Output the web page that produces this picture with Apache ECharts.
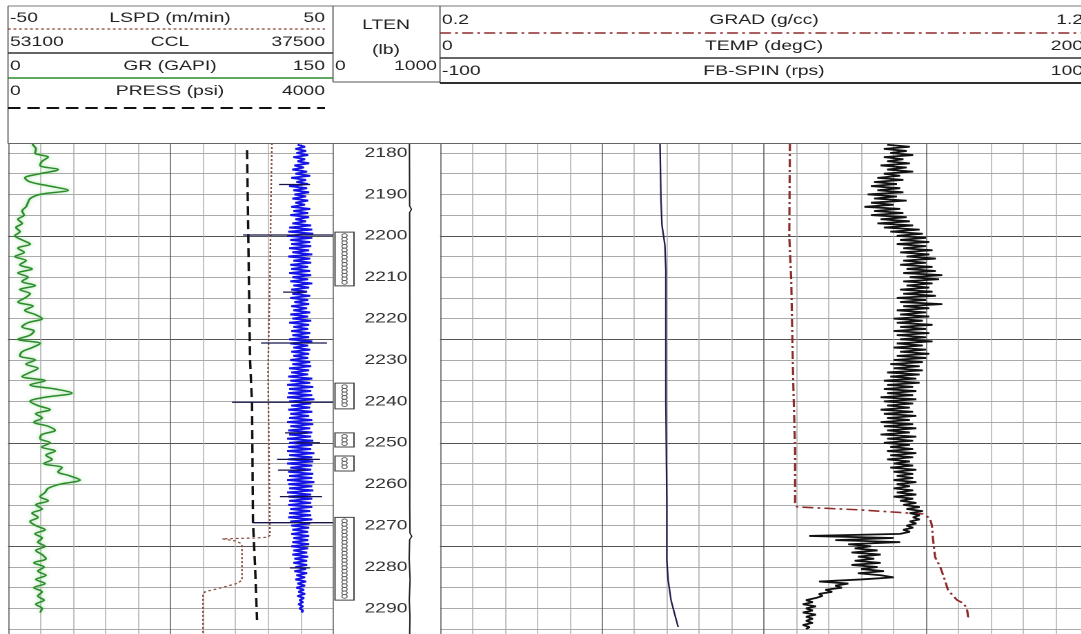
<!DOCTYPE html>
<html>
<head>
<meta charset="utf-8">
<title>Well log</title>
<script src="https://cdn.jsdelivr.net/npm/echarts@6.0.0/dist/echarts.min.js"></script>
<style>
  html, body { margin: 0; padding: 0; background: #fff; overflow: hidden; }
  #frame { width: 1081px; height: 634px; overflow: hidden; position: relative; }
  #chart { height: 634px; transform-origin: 0 0; }
</style>
</head>
<body>
<div id="frame"><div id="chart"></div></div>
<script>
// ---- data -------------------------------------------------------------
const DEPTH_MIN = 2175, DEPTH_MAX = 2300;

// GR (GAPI), one sample per metre
const grStart = 2177, grStep = 1;
const grValues = [11.1, 11.5, 12.9, 12.5, 18.5, 15.7, 14.8, 23.1, 14.8, 7.8,
  10.2, 19.4, 27.7, 14.8, 10.2, 9.2, 8.3, 6.5, 7.4, 4.6,
  6.5, 3.7, 5.5, 3.2, 6.5, 10.2, 4.6, 7.4, 3.2, 8.3,
  5.5, 11.1, 4.6, 9.2, 6.5, 12.5, 5.5, 10.2, 7.8, 4.6,
  11.5, 7.8, 12.5, 15.7, 9.2, 6.5, 12.0, 10.2, 4.6, 14.8,
  11.1, 6.5, 5.5, 12.5, 8.3, 13.8, 10.2, 6.5, 17.1, 10.2,
  21.7, 29.5, 17.1, 10.2, 13.8, 19.4, 12.9, 15.7, 12.0, 18.5,
  21.7, 15.7, 14.8, 19.4, 15.7, 21.7, 17.5, 20.3, 16.6, 24.9,
  23.1, 28.6, 33.2, 24.0, 18.5, 17.1, 14.8, 18.5, 12.9, 15.7,
  11.1, 13.8, 10.2, 12.9, 17.1, 12.5, 15.7, 13.8, 17.1, 12.9,
  15.7, 17.5, 12.0, 16.6, 13.8, 17.5, 12.9, 17.1, 12.0, 15.7,
  13.8, 16.6, 12.9, 15.7, 14.8];

// CCL, every 0.5 m
const cclStart = 2178, cclStep = 0.5;
const cclValues = [39200, 38850,
  39300, 38800, 39250, 38700, 39400, 38850, 39200, 38650, 39350, 38900,
  39450, 38750, 39300, 38600, 39500, 38800, 39250, 38700, 39600, 38750,
  39400, 38650, 39350, 38800, 39450, 38700, 39300, 38850, 39500, 38600,
  39400, 38700, 39550, 38650, 39300, 38800, 39450, 38550, 39600, 38500,
  39650, 38450, 39700, 38500, 39550, 38600, 39500, 38550, 39600, 38650,
  39450, 38500, 39650, 38600, 39400, 38550, 39550, 38700, 39500, 38600,
  39600, 38550, 39450, 38700, 39550, 38500, 39400, 38650, 39500, 38750,
  39450, 38600, 39550, 38700, 39350, 38650, 39500, 38750, 39400, 38600,
  39550, 38700, 39450, 38550, 39600, 38650, 39400, 38700, 39500, 38600,
  39450, 38650, 39600, 38500, 39550, 38700, 39400, 38600, 39500, 38650,
  39400, 38700, 39550, 38600, 39450, 38550, 39600, 38650, 39500, 38700,
  39650, 38500, 39550, 38600, 39700, 38450, 39600, 38550, 39650, 38500,
  39700, 38400, 39600, 38550, 39500, 38600, 39650, 38500, 39550, 38650,
  39600, 38500, 39700, 38450, 39550, 38600, 39650, 38500, 39600, 38550,
  39700, 38450, 39600, 38500, 39650, 38550, 39700, 38400, 39600, 38500,
  39650, 38450, 39700, 38500, 39550, 38550, 39650, 38450, 39600, 38500,
  39700, 38400, 39650, 38500, 39600, 38450, 39700, 38550, 39650, 38500,
  39600, 38550, 39650, 38500, 39550, 38600, 39600, 38550, 39650, 38500,
  39550, 38600, 39500, 38650, 39450, 38700, 39500, 38650, 39400, 38700,
  39450, 38650, 39500, 38700, 39400, 38750, 39450, 38700, 39350, 38750,
  39400, 38750, 39300, 38800, 39350, 38750, 39250, 38850, 39300, 38800,
  39200, 38850, 39250, 38900, 39150, 38850, 39200, 38900, 39100, 38950,
  39150, 38950, 39100, 38950, 39000];

// CCL collar kicks: depth, left and right excursion
const kickDepth = [2187.6, 2199.8, 2213.6, 2225.9, 2240.2, 2247.6, 2250.0, 2254.0, 2256.6, 2263.0, 2269.3, 2280.2];
const kickLeft  = [40092, 41820, 39900, 40956, 42348, 39804, 39300, 40188, 40140, 40044, 41340, 39564];
const kickRight = [38604, 37500, 38800, 37788, 37500, 38700, 38124, 38124, 38800, 38028, 37500, 38604];

// LSPD (m/min)
const lspdDepth = [2177.6, 2191.4, 2210.7, 2232.4, 2251.7, 2272.3, 2272.8, 2273.0, 2273.2, 2273.7, 2274.2, 2274.9, 2283.1, 2283.9, 2285.1, 2286.0, 2286.8, 2297];
const lspdValue = [31.2, 30.9, 30.6, 30.0, 30.3, 30.6, 30.0, 26.0, 15.9, 19.9, 21.4, 22.0, 22.0, 20.8, 15.2, 10.6, 10.0, 10.0];

// PRESS (psi)
const pressDepth = [2179.3, 2230, 2240.4, 2269.1, 2279.5, 2292.8];
const pressValue = [2942, 2979, 3003, 3015, 3040, 3065];

// LTEN (lb)
const ltenDepth = [2177.6, 2185, 2192.8, 2193.6, 2194.4, 2205, 2230, 2250, 2265, 2271.8, 2272.6, 2273.4, 2278, 2283, 2288, 2292, 2297];
const ltenValue = [714, 715, 716, 733, 716, 717, 718, 718, 717, 719, 736, 716, 712, 720, 713, 719, 716];

// perforated intervals
const perfTop    = [2199.1, 2235.6, 2247.6, 2253.2, 2268.0];
const perfBottom = [2212.1, 2241.8, 2251.0, 2256.8, 2288.0];

// TEMP (degC)
const tempDepth = [2177.6, 2191.4, 2197.4, 2202.2, 2208.3, 2239.7, 2263.8, 2278.3, 2283.1, 2288.0, 2291.6, 2294.5];
const tempValue = [67.9, 68.2, 68.5, 69.4, 69.7, 69.7, 70.0, 70.0, 70.4, 71.3, 72.5, 73.5];

// GRAD (g/cc)
const gradDepth = [2177.6, 2200, 2210.7, 2234.8, 2251.7, 2264.5, 2265.5, 2266.2, 2267.2, 2268.2, 2269.9, 2273.5, 2277.6, 2280, 2283.1, 2285.6, 2288, 2288.7, 2289.9, 2292.1, 2292.8];
const gradValue = [0.740, 0.739, 0.742, 0.745, 0.748, 0.748, 0.751, 0.848, 0.945, 0.956, 0.959, 0.961, 0.964, 0.972, 0.979, 0.984, 0.998, 1.007, 1.013, 1.015, 1.013];

// FB-SPIN (rps), every 0.5 m
const spinStart = 2178, spinStep = 0.5;
const spinValues = [38, 45, 37, 44, 39, 46, 37, 43, 38, 45,
  36, 44, 38, 46, 37, 42, 35, 43, 34, 41,
  33, 42, 35, 43, 32, 41, 34, 44, 33, 40,
  31, 42, 34, 43, 33, 44, 36, 45, 35, 46,
  37, 48, 39, 49, 41, 50, 42, 51, 41, 50,
  43, 52, 42, 51, 44, 53, 43, 50, 42, 52,
  44, 53, 43, 55, 45, 54, 43, 52, 44, 51,
  42, 52, 43, 53, 41, 50, 42, 55, 43, 51,
  41, 50, 42, 51, 40, 49, 41, 52, 42, 50,
  40, 51, 41, 50, 42, 52, 41, 49, 40, 50,
  42, 51, 41, 50, 40, 49, 39, 48, 40, 49,
  38, 48, 39, 47, 37, 48, 38, 46, 37, 47,
  38, 46, 36, 47, 37, 46, 38, 45, 36, 46,
  37, 47, 38, 45, 36, 46, 37, 47, 38, 45,
  36, 47, 38, 46, 37, 45, 39, 46, 38, 47,
  39, 46, 38, 45, 40, 46, 39, 47, 40, 46,
  41, 46, 40, 47, 41, 45, 40, 46, 41, 47,
  40, 46, 42, 47, 43, 48, 44, 49, 45, 48,
  46, 48, 45, 47, 44, 46, 43, 45, 42, 14,
  40, 22, 42, 26, 33, 28, 35, 27, 36, 29,
  34, 28, 36, 27, 35, 30, 37, 29, 36, 40,
  30, 17, 26, 22, 24, 19, 21, 17, 18, 16,
  13, 15, 12, 16, 13, 15, 12, 16, 13, 15,
  13, 15, 12, 14, 13];

// ---- layout -----------------------------------------------------------
// the printed log is stretched sideways, so draw narrow and widen the page
const SX = 1.38;
const sx = v => v / SX;
const FONT = '"Liberation Sans", Arial, sans-serif';
const GRID_TOP = 132.3, GRID_H = 517.5;

const chartEl = document.getElementById('chart');
chartEl.style.width = (1081 / SX) + 'px';
chartEl.style.transform = 'scaleX(' + SX + ')';

const grid = [], xAxis = [], yAxis = [], series = [];

function panel(left, width, xmin, xmax, opts) {
  opts = opts || {};
  const i = grid.length;
  grid.push({ left: sx(left), width: sx(width), top: GRID_TOP, height: GRID_H, outerBoundsMode: 'none', containLabel: false });
  xAxis.push(Object.assign({ type: 'value', gridIndex: i, min: xmin, max: xmax, inverse: !!opts.inverse, show: false }, opts.x || {}));
  yAxis.push(Object.assign({ type: 'value', gridIndex: i, min: DEPTH_MIN, max: DEPTH_MAX, inverse: true, show: false }, opts.y || {}));
  return i;
}

const gridLines = (interval, w) => ({
  show: true, interval: interval,
  axisLine: { show: false }, axisTick: { show: false }, axisLabel: { show: false },
  splitLine: { show: true, lineStyle: { color: '#555', width: w } },
  minorTick: { show: false, splitNumber: 5 },
  minorSplitLine: { show: true, lineStyle: { color: '#aaa', width: w } }
});

const seq = (start, step, values) => values.map((v, k) => [v, start + k * step]);
const pairs = (depths, values) => values.map((v, k) => [v, depths[k]]);

function curve(p, data, lineStyle, extra) {
  series.push(Object.assign({
    type: 'line', xAxisIndex: p, yAxisIndex: p, data: data,
    showSymbol: false, symbol: 'none', lineStyle: lineStyle, silent: true, z: 3
  }, extra || {}));
}

// track 1
const t1 = panel(8, 325, 0, 10, { x: gridLines(5, sx(1)), y: gridLines(25, 1) });
const pGR = panel(8, 325, 0, 150);
const pCCL = panel(8, 325, 37500, 53100, { inverse: true });
const pLSPD = panel(8, 325, -50, 50);
const pPRESS = panel(8, 325, 0, 4000);
// depth track
const pLTEN = panel(333, 107, 0, 1000);
const pLab = panel(407.5, 1, 0, 1, {
  y: {
    show: true, position: 'left', interval: 5,
    axisLine: { show: false }, axisTick: { show: false }, splitLine: { show: false },
    axisLabel: { margin: 0, fontSize: 14, color: '#333', fontFamily: FONT,
      formatter: v => (v % 10 === 0 ? String(v) : '') }
  }
});
// track 2
const t2 = panel(440, 648, 0, 20, { x: gridLines(5, sx(1)), y: gridLines(25, 1) });
const pTEMP = panel(440, 648, 0, 200);
const pGRAD = panel(440, 648, 0.2, 1.2);
const pSPIN = panel(440, 648, -100, 100);

curve(pGR, seq(grStart, grStep, grValues), { color: '#2b8c2b', width: 1.5, shadowColor: 'rgba(110,210,110,0.7)', shadowBlur: 3 }, { smooth: 0.35 });
curve(pCCL, seq(cclStart, cclStep, cclValues), { color: '#1414e6', width: 1.9 });
series.push({
  type: 'custom', xAxisIndex: pCCL, yAxisIndex: pCCL, silent: true, z: 4,
  data: kickDepth.map((d, k) => [d, kickLeft[k], kickRight[k]]),
  encode: { x: [1, 2], y: 0 },
  renderItem: (params, api) => {
    const a = api.coord([api.value(1), api.value(0)]);
    const b = api.coord([api.value(2), api.value(0)]);
    return { type: 'line', shape: { x1: a[0], y1: a[1], x2: b[0], y2: b[1] }, style: { stroke: '#15154a', lineWidth: 1.3 } };
  }
});
curve(pLSPD, pairs(lspdDepth, lspdValue), { color: '#8a4a3c', width: 1.2, type: [2, 2] });
curve(pPRESS, pairs(pressDepth, pressValue), { color: '#111', width: sx(2.4), type: [9, 5] });
curve(pLTEN, pairs(ltenDepth, ltenValue), { color: '#222', width: sx(1.4) });
series.push({
  type: 'custom', xAxisIndex: pLTEN, yAxisIndex: pLTEN, silent: true, z: 4,
  data: perfTop.map((d, k) => [d, perfBottom[k], 0]),
  encode: { y: [0, 1], x: 2 },
  renderItem: (params, api) => {
    const top = api.coord([0, api.value(0)])[1];
    const bot = api.coord([0, api.value(1)])[1];
    const x0 = params.coordSys.x + sx(2), w = sx(19);
    const kids = [{ type: 'rect', shape: { x: x0, y: top, width: w, height: bot - top },
      style: { fill: '#fff', stroke: '#444', lineWidth: 1 } }];
    const cx = x0 + w / 2;
    for (let y = top + 3.5; y <= bot - 3; y += 3.6) {
      kids.push({ type: 'circle', shape: { cx: cx, cy: y, r: 1.9 }, style: { fill: 'none', stroke: '#555', lineWidth: 0.8 } });
    }
    return { type: 'group', children: kids };
  }
});
curve(pTEMP, pairs(tempDepth, tempValue), { color: '#1d1d4d', width: sx(1.6) });
curve(pGRAD, pairs(gradDepth, gradValue), { color: '#8e2c2c', width: 1.6, type: [8, 3, 2, 3] });
curve(pSPIN, seq(spinStart, spinStep, spinValues), { color: '#111', width: 1.8 });

// ---- header -----------------------------------------------------------
const els = [];
els.push({ type: 'rect', z: 100, shape: { x: 0, y: 0, width: 1200 / SX, height: 143 }, style: { fill: '#fff' } });
function hline(x1, x2, y, stroke, width, dash) {
  els.push({ type: 'line', z: 110, shape: { x1: sx(x1), y1: y, x2: sx(x2), y2: y },
    style: { stroke: stroke, lineWidth: width, lineDash: dash || null } });
}
function vline(x, y1, y2, stroke) {
  els.push({ type: 'line', z: 110, shape: { x1: sx(x), y1: y1, x2: sx(x), y2: y2 },
    style: { stroke: stroke, lineWidth: sx(1.2) } });
}
function htext(x, y, str, align) {
  els.push({ type: 'text', z: 111, x: sx(x), y: y,
    style: { text: str, fill: '#222', font: '14px ' + FONT, textAlign: align, align: align,
      textVerticalAlign: 'middle', verticalAlign: 'middle' } });
}
hline(8, 1090, 6, '#777', 1);
hline(8, 1090, 143.5, '#666', 1);
vline(8, 6, 143.5, '#555');
vline(333, 6, 82, '#555');
vline(440, 6, 83, '#555');
hline(333, 440, 82, '#555', 1);

const t1Rows = [
  ['-50', 'LSPD (m/min)', '50', 18],
  ['53100', 'CCL', '37500', 42],
  ['0', 'GR (GAPI)', '150', 66],
  ['0', 'PRESS (psi)', '4000', 91]
];
t1Rows.forEach(r => { htext(10, r[3], r[0], 'left'); htext(170, r[3], r[1], 'center'); htext(325, r[3], r[2], 'right'); });
hline(8, 325, 29, '#8a4a3c', 1.3, [2, 2]);
hline(8, 333, 53, '#333', 1.5);
hline(8, 333, 78, '#2b8c2b', 1.6);
hline(8, 325, 108, '#111', 2, [9, 5]);

htext(386, 25, 'LTEN', 'center');
htext(386, 50, '(lb)', 'center');
htext(335, 66, '0', 'left');
htext(437, 66, '1000', 'right');

const t2Rows = [
  ['0.2', 'GRAD (g/cc)', '1.2', 20],
  ['0', 'TEMP (degC)', '200', 46],
  ['-100', 'FB-SPIN (rps)', '100', 71]
];
t2Rows.forEach(r => { htext(442, r[3], r[0], 'left'); htext(764, r[3], r[1], 'center'); htext(1083, r[3], r[2], 'right'); });
hline(440, 1090, 33, '#8e2c2c', 1.6, [8, 3, 2, 3]);
hline(440, 1090, 58, '#333', 1.5);
hline(440, 1090, 83, '#111', 1.8);

const chart = echarts.init(chartEl, null, { renderer: 'canvas', devicePixelRatio: 2 });
chart.setOption({
  animation: false,
  backgroundColor: '#fff',
  grid: grid, xAxis: xAxis, yAxis: yAxis, series: series,
  graphic: { elements: els }
});
</script>
</body>
</html>
